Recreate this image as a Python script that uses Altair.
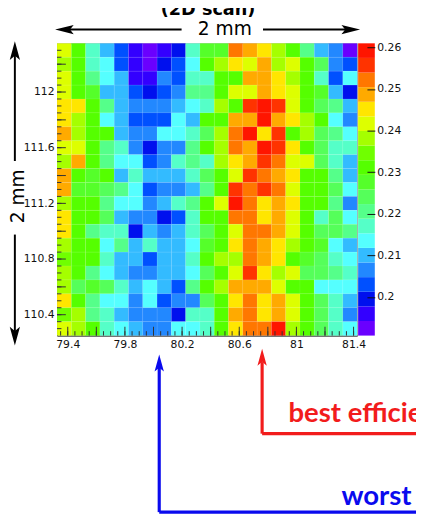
import altair as alt
import pandas as pd

# ---------------- data ----------------
x_pos = [79.375, 79.475, 79.575, 79.675, 79.775, 79.875, 79.975, 80.075, 80.175, 80.275,
         80.375, 80.475, 80.575, 80.675, 80.775, 80.875, 80.975, 81.075, 81.175, 81.275, 81.375]
y_pos = [112.3, 112.2, 112.1, 112.0, 111.9, 111.8, 111.7, 111.6, 111.5, 111.4, 111.3,
         111.2, 111.1, 111.0, 110.9, 110.8, 110.7, 110.6, 110.5, 110.4, 110.3]

eff_112_3 = [.2417,.2311,.2171,.2100,.2030,.1960,.1925,.1960,.1995,.2171,.2276,.2276,.2522,.2487,.2452,.2381,.2311,.2206,.2100,.2065,.1925]
eff_112_2 = [.2381,.2311,.2171,.2135,.2030,.1960,.1925,.1995,.2030,.2135,.2311,.2381,.2452,.2417,.2487,.2381,.2417,.2311,.2241,.2065,.2030]
eff_112_1 = [.2417,.2311,.2206,.2135,.2100,.1960,.1960,.2065,.2030,.2171,.2171,.2311,.2311,.2487,.2487,.2452,.2381,.2311,.2171,.2030,.2135]
eff_112_0 = [.2417,.2311,.2276,.2100,.2100,.2030,.1995,.2030,.2065,.2206,.2206,.2311,.2417,.2417,.2487,.2452,.2417,.2311,.2276,.2100,.1995]
eff_111_9 = [.2452,.2452,.2311,.2206,.2100,.2065,.2065,.2065,.2100,.2135,.2171,.2381,.2311,.2557,.2592,.2557,.2417,.2311,.2241,.2206,.2100]
eff_111_8 = [.2452,.2381,.2311,.2135,.2100,.2030,.2030,.2030,.2135,.2100,.2311,.2311,.2487,.2487,.2592,.2487,.2452,.2381,.2311,.2135,.2065]
eff_111_7 = [.2487,.2381,.2311,.2311,.2100,.2065,.2065,.2135,.2135,.2171,.2241,.2381,.2522,.2592,.2452,.2557,.2311,.2381,.2241,.2206,.2135]
eff_111_6 = [.2417,.2417,.2311,.2206,.2171,.2065,.1995,.2065,.2065,.2206,.2311,.2381,.2522,.2487,.2592,.2557,.2452,.2311,.2241,.2171,.2171]
eff_111_5 = [.2381,.2487,.2311,.2206,.2135,.2135,.2030,.2065,.2171,.2206,.2171,.2381,.2452,.2487,.2557,.2522,.2417,.2417,.2241,.2171,.2100]
eff_111_4 = [.2487,.2311,.2276,.2311,.2100,.2171,.2100,.2100,.2100,.2171,.2241,.2311,.2417,.2557,.2522,.2487,.2452,.2311,.2311,.2206,.2100]
eff_111_3 = [.2487,.2276,.2276,.2241,.2206,.2135,.2030,.2065,.2065,.2100,.2206,.2311,.2557,.2522,.2557,.2522,.2417,.2311,.2311,.2241,.2135]
eff_111_2 = [.2381,.2311,.2311,.2206,.2135,.2135,.2065,.2100,.2171,.2206,.2311,.2417,.2592,.2522,.2452,.2487,.2452,.2311,.2311,.2206,.2065]
eff_111_1 = [.2452,.2311,.2311,.2241,.2100,.2065,.2065,.1995,.2030,.2171,.2311,.2311,.2522,.2522,.2452,.2487,.2417,.2311,.2171,.2241,.2135]
eff_111_0 = [.2452,.2311,.2206,.2171,.2171,.1995,.2100,.2065,.2100,.2171,.2241,.2311,.2417,.2522,.2522,.2487,.2417,.2311,.2241,.2241,.2206]
eff_110_9 = [.2381,.2311,.2311,.2135,.2206,.2100,.2171,.2100,.2100,.2135,.2276,.2311,.2452,.2522,.2487,.2452,.2381,.2311,.2276,.2135,.2100]
eff_110_8 = [.2346,.2311,.2311,.2171,.2100,.2100,.2030,.2100,.2100,.2171,.2311,.2381,.2381,.2522,.2487,.2452,.2311,.2276,.2241,.2171,.2135]
eff_110_7 = [.2381,.2311,.2206,.2135,.2100,.2065,.2065,.2100,.2100,.2135,.2241,.2311,.2417,.2557,.2452,.2381,.2417,.2241,.2241,.2206,.2171]
eff_110_6 = [.2381,.2241,.2276,.2241,.2171,.2100,.2135,.2100,.2030,.2206,.2311,.2381,.2487,.2487,.2487,.2417,.2311,.2311,.2135,.2135,.2135]
eff_110_5 = [.2452,.2311,.2206,.2135,.2135,.2065,.2135,.2030,.2065,.2065,.2241,.2311,.2452,.2522,.2452,.2487,.2417,.2311,.2241,.2171,.2100]
eff_110_4 = [.2346,.2381,.2206,.2171,.2100,.2065,.2065,.2065,.1995,.2171,.2171,.2311,.2487,.2522,.2452,.2487,.2417,.2311,.2241,.2171,.2065]
eff_110_3 = [.2417,.2381,.2311,.2171,.2135,.2100,.2065,.2065,.2135,.2135,.2171,.2311,.2452,.2522,.2522,.2592,.2381,.2311,.2241,.2171,.2135]

eff_rows = [eff_112_3, eff_112_2, eff_112_1, eff_112_0, eff_111_9, eff_111_8, eff_111_7,
            eff_111_6, eff_111_5, eff_111_4, eff_111_3, eff_111_2, eff_111_1, eff_111_0,
            eff_110_9, eff_110_8, eff_110_7, eff_110_6, eff_110_5, eff_110_4, eff_110_3]

z_min, z_max = 0.1907, 0.261
palette = ["#6a00ff", "#3300ff", "#0010ee", "#0050ff", "#2288ff", "#33bbff", "#55ffff",
           "#55ffc8", "#55ff8a", "#55ff5a", "#55ff2a", "#55ff00", "#70ff00", "#a5ff00",
           "#ddff00", "#ffe600", "#ffaa00", "#ff7700", "#ff3300", "#ff1500"]

x_labels = [79.4, 79.8, 80.2, 80.6, 81.0, 81.4]
y_labels = [110.4, 110.8, 111.2, 111.6, 112.0]
z_labels = [0.20, 0.21, 0.22, 0.23, 0.24, 0.25, 0.26]
x_major = [79.4, 79.6, 79.8, 80.0, 80.2, 80.4, 80.6, 80.8, 81.0, 81.2, 81.4]
y_major = [110.4, 110.6, 110.8, 111.0, 111.2, 111.4, 111.6, 111.8, 112.0, 112.2]
x_minor = [round(79.35 + 0.05 * i, 3) for i in range(42)]
y_minor = [round(110.3 + 0.05 * i, 3) for i in range(41)]
marks_x = [80.04, 80.76]   # worst / best columns

# ---------------- layout ----------------
W, H = 306, 298
X_DOM = [79.325, 81.425]
Y_DOM = [110.25, 112.35]

recs = []
for yv, row in zip(y_pos, eff_rows):
    for xv, z in zip(x_pos, row):
        recs.append({"x0": xv - 0.05, "x1": xv + 0.05, "y0": yv - 0.05, "y1": yv + 0.05, "eff": z})
cells = pd.DataFrame(recs)

LF = "DejaVu Sans"
xs = alt.Scale(domain=X_DOM, nice=False, zero=False)
ys = alt.Scale(domain=Y_DOM, nice=False, zero=False)
x_axis = alt.Axis(values=x_labels, format="~g", ticks=False, tickSize=0, grid=False, labelFont=LF,
                  labelFontSize=11, labelColor="#111", labelPadding=3, domainColor="#333", title=None)
y_axis = alt.Axis(values=y_labels, format="~g", ticks=False, tickSize=0, grid=False, labelFont=LF,
                  labelFontSize=11, labelColor="#111", labelPadding=3, domainColor="#333", title=None)

def X(field):
    return alt.X(field, scale=xs, axis=x_axis, title=None)

heat = alt.Chart(cells).mark_rect(stroke="white", strokeOpacity=0.12, strokeWidth=0.5).encode(
    x=X("x0:Q"), x2="x1:Q",
    y=alt.Y("y0:Q", scale=ys, axis=y_axis, title=None), y2="y1:Q",
    color=alt.Color("eff:Q", scale=alt.Scale(type="quantize", domain=[z_min, z_max], range=palette,
                                            nice=False, zero=False), legend=None),
)

tick_col = "#333"
xmaj = alt.Chart(pd.DataFrame({"x0": x_major})).mark_rule(color=tick_col).encode(
    x=X("x0:Q"), y=alt.value(H), y2=alt.value(H - 9))
xmin = alt.Chart(pd.DataFrame({"x0": x_minor})).mark_rule(color=tick_col).encode(
    x=X("x0:Q"), y=alt.value(H), y2=alt.value(H - 4.5))
ymaj = alt.Chart(pd.DataFrame({"v": y_major})).mark_rule(color=tick_col).encode(
    y=alt.Y("v:Q", scale=ys, axis=None), x=alt.value(0), x2=alt.value(9))
ymin = alt.Chart(pd.DataFrame({"v": y_minor})).mark_rule(color=tick_col).encode(
    y=alt.Y("v:Q", scale=ys, axis=None), x=alt.value(0), x2=alt.value(4.5))

# colour bar
step = (z_max - z_min) / len(palette)
bands = pd.DataFrame({"lo": [z_min + i * step for i in range(len(palette))],
                      "hi": [z_min + (i + 1) * step for i in range(len(palette))],
                      "c": palette})
cbar = alt.Chart(bands).mark_rect().encode(
    x=alt.value(W + 1), x2=alt.value(W + 18),
    y=alt.Y("lo:Q", scale=alt.Scale(domain=[z_min, z_max], nice=False, zero=False),
            axis=alt.Axis(orient="right", values=z_labels, format=".2~f", offset=10, tickSize=8,
                          tickColor="#111", domain=False, grid=False, labelFont=LF, labelFontSize=11,
                          labelColor="#111", labelPadding=2, zindex=1, title=None)),
    y2="hi:Q",
    color=alt.Color("c:N", scale=None, legend=None),
)

# annotations
ARROW_UP = "M0,-1L0.55,1L0,0.55L-0.55,1Z"
ARROW_DN = "M0,1L0.55,-1L0,-0.55L-0.55,-1Z"
ARROW_L = "M-1,0L1,-0.5L0.6,0L1,0.5Z"
ARROW_R = "M1,0L-1,-0.5L-0.6,0L-1,0.5Z"

one = pd.DataFrame({"a": [0]})

def rule(x, y, x2=None, y2=None, color="black", w=2):
    enc = dict(x=alt.value(x), y=alt.value(y))
    if x2 is not None:
        enc["x2"] = alt.value(x2)
    if y2 is not None:
        enc["y2"] = alt.value(y2)
    return alt.Chart(one).mark_rule(color=color, strokeWidth=w).encode(**enc)

def head(shape, x, y, size, color="black"):
    return alt.Chart(one).mark_point(shape=shape, filled=True, size=size, opacity=1,
                                     color=color, strokeWidth=0).encode(x=alt.value(x), y=alt.value(y))

def label(txt, x, y, size, color="black", weight="normal", font=LF, angle=0, align="center",
          baseline="middle"):
    return alt.Chart(one).mark_text(text=txt, fontSize=size, color=color, fontWeight=weight, font=font,
                                    angle=angle, align=align, baseline=baseline).encode(
        x=alt.value(x), y=alt.value(y))

ann = [
    label("(2D scan)", 154, -29, 18, weight="bold", baseline="alphabetic"),
    label("2 mm", 171, -14, 19),
    rule(8, -14, x2=127), rule(210, -14, x2=300),
    head(ARROW_L, 7.5, -14, 361), head(ARROW_R, 299.5, -14, 361),
    label("2 mm", -40, 156, 19, angle=270),
    rule(-43, 8, y2=120), rule(-43, 195, y2=300),
    head(ARROW_UP, -43, 7.5, 361), head(ARROW_DN, -43, 298.5, 361),
]

BLUE, RED = "#0a0aee", "#f21c1c"
mk = pd.DataFrame({"x0": marks_x})
blue = mk.iloc[[0]]
red = mk.iloc[[1]]

def vline(df, y, y2, color):
    return alt.Chart(df).mark_rule(color=color, strokeWidth=3.2).encode(
        x=X("x0:Q"), y=alt.value(y), y2=alt.value(y2))

def hline(df, y, color):
    return alt.Chart(df).mark_rule(color=color, strokeWidth=3.2).encode(
        x=X("x0:Q"), x2=alt.value(380), y=alt.value(y))

def mhead(df, y, color):
    return alt.Chart(df).mark_point(shape=ARROW_UP, filled=True, size=300, opacity=1, color=color,
                                    strokeWidth=0).encode(x=X("x0:Q"), y=alt.value(y))

marks = [
    vline(blue, 330, 478, BLUE), hline(blue, 478, BLUE), mhead(blue, 326, BLUE),
    vline(red, 325, 398, RED), hline(red, 398, RED), mhead(red, 320, RED),
    label("best efficiency", 236, 386, 28, color=RED, weight="bold", font="Lato", align="left",
          baseline="alphabetic"),
    label("worst efficiency", 290, 471, 28, color=BLUE, weight="bold", font="Lato", align="left",
          baseline="alphabetic"),
]

chart = alt.layer(heat, xmaj, xmin, ymaj, ymin, cbar, *ann, *marks).resolve_scale(
    y="independent", color="independent"
).properties(
    width=W, height=H,
    autosize=alt.AutoSizeParams(type="none"),
    padding={"left": 50, "top": 31, "right": 60, "bottom": 182},
).configure_view(stroke="#999", strokeWidth=1)

chart.save("out.html", embed_options={"renderer": "svg", "actions": False})
